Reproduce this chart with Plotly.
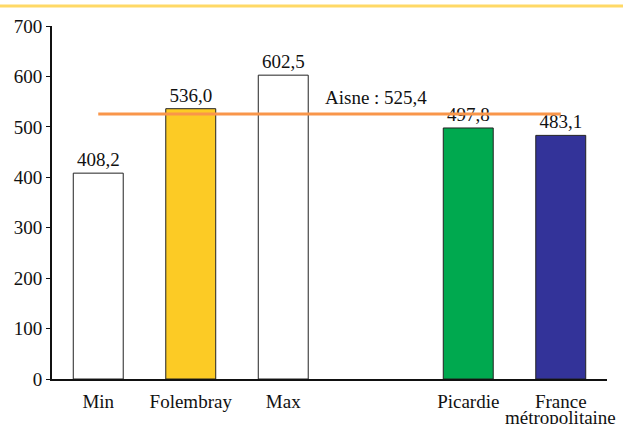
import plotly.graph_objects as go

categories = ["Min", "Folembray", "Max", " ", "Picardie", "France"]
bar_categories = ["Min", "Folembray", "Max", "Picardie", "France"]
france_second_line = "métropolitaine"
bar_values = [408.2, 536.0, 602.5, 497.8, 483.1]
bar_colors = ["#FFFFFF", "#FCCB25", "#FFFFFF", "#00A94F", "#333399"]
aisne_value = 525.4
aisne_label = "Aisne : " + f"{aisne_value:.1f}".replace(".", ",")
y_ticks = [0, 100, 200, 300, 400, 500, 600, 700]

FONT = "Times New Roman, Liberation Serif, DejaVu Serif, serif"
FS = 19

fig = go.Figure()
fig.add_trace(go.Bar(
    x=bar_categories, y=bar_values,
    marker=dict(color=bar_colors, line=dict(color="#222222", width=1)),
    width=0.54,
    texttemplate="%{y:.1f}", textposition="outside", cliponaxis=False,
    textfont=dict(family=FONT, size=FS, color="#111111"),
    showlegend=False, hoverinfo="skip",
))
fig.add_trace(go.Scatter(
    x=[bar_categories[0], bar_categories[-1]], y=[aisne_value, aisne_value],
    mode="lines", line=dict(color="#F9964A", width=3),
    showlegend=False, hoverinfo="skip",
))
fig.add_annotation(
    x=" ", y=aisne_value, text=aisne_label, showarrow=False,
    yshift=17, font=dict(family=FONT, size=FS, color="#111111"),
)
fig.add_annotation(
    x="France", xref="x", y=0, yref="y", text=france_second_line,
    showarrow=False, yanchor="middle", yshift=-38, borderpad=0,
    font=dict(family=FONT, size=FS, color="#111111"),
)
fig.add_shape(
    type="line", xref="paper", yref="paper",
    x0=-0.2, x1=1.2, y0=1 + 20 / 353, y1=1 + 20 / 353,
    line=dict(color="#FFD966", width=3),
)
fig.update_layout(
    width=623, height=424,
    margin=dict(l=52, r=16, t=26, b=45, autoexpand=False),
    paper_bgcolor="white", plot_bgcolor="white",
    separators=", ",
    font=dict(family=FONT, size=FS, color="#111111"),
    bargap=0.46,
)
fig.update_xaxes(
    type="category", categoryorder="array", categoryarray=categories,
    range=[-0.5, len(categories) - 0.5],
    showline=True, linecolor="#111111", linewidth=2,
    showgrid=False, ticks="", tickfont=dict(family=FONT, size=FS),
    automargin=False, ticklabelstandoff=4,
)
fig.update_yaxes(
    range=[0, 700], tickvals=y_ticks,
    showline=True, linecolor="#111111", linewidth=2,
    showgrid=False, zeroline=False,
    ticks="outside", ticklen=4, tickcolor="#111111", tickwidth=1,
    tickfont=dict(family=FONT, size=FS), automargin=False,
)
fig.write_html("out.html")
